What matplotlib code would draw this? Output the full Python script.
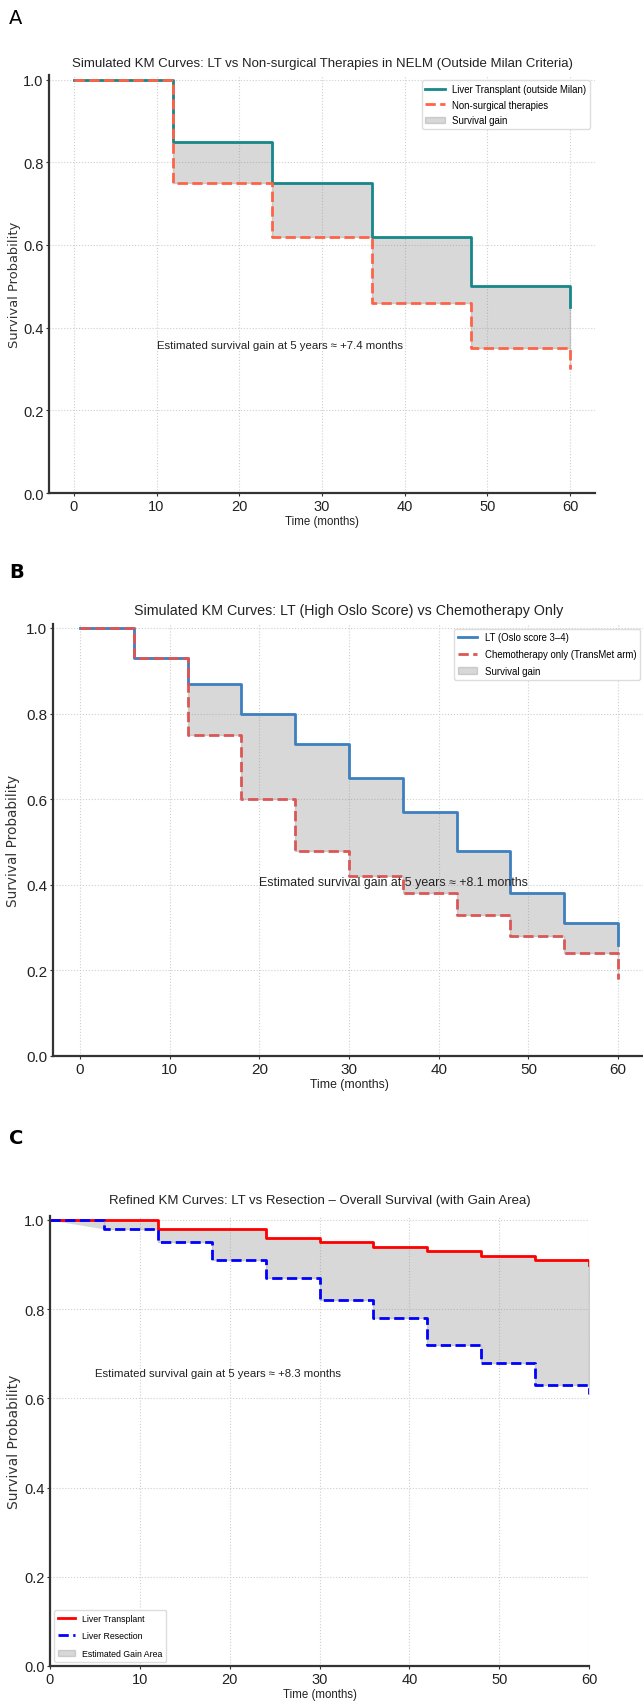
import numpy as np
import matplotlib
matplotlib.use("Agg")
import matplotlib.pyplot as plt

# ---- data ----
# panel A: LT outside Milan vs non-surgical therapies
t_a = [0, 12, 24, 36, 48, 60]
lt_a = [1.0, 0.85, 0.75, 0.62, 0.50, 0.45]
ns_a = [1.0, 0.75, 0.62, 0.46, 0.35, 0.30]

# panel B: LT (Oslo 3-4) vs chemotherapy
t_b = [0, 6, 12, 18, 24, 30, 36, 42, 48, 54, 60]
lt_b = [1.0, 0.93, 0.87, 0.80, 0.73, 0.65, 0.57, 0.48, 0.38, 0.31, 0.26]
ch_b = [1.0, 0.93, 0.75, 0.60, 0.48, 0.42, 0.38, 0.33, 0.28, 0.24, 0.18]

# panel C: LT vs resection
t_c = [0, 6, 12, 18, 24, 30, 36, 42, 48, 54, 60]
lt_c = [1.0, 1.0, 0.98, 0.98, 0.96, 0.95, 0.94, 0.93, 0.92, 0.91, 0.90]
rs_c = [1.0, 0.98, 0.95, 0.91, 0.87, 0.82, 0.78, 0.72, 0.68, 0.63, 0.61]

titles = [
    "Simulated KM Curves: LT vs Non-surgical Therapies in NELM (Outside Milan Criteria)",
    "Simulated KM Curves: LT (High Oslo Score) vs Chemotherapy Only",
    "Refined KM Curves: LT vs Resection \u2013 Overall Survival (with Gain Area)",
]
notes = [
    "Estimated survival gain at 5 years \u2248 +7.4 months",
    "Estimated survival gain at 5 years \u2248 +8.1 months",
    "Estimated survival gain at 5 years \u2248 +8.3 months",
]

sans = ["Liberation Sans", "DejaVu Sans"]
W, H = 643, 1706

fig = plt.figure(figsize=(W / 100, H / 100), dpi=100)


def px_axes(left, right, y0, y1, ytop=1.01):
    # y0 = pixel row of y=0, y1 = pixel row of y=1.0
    top = y0 - (y0 - y1) * ytop
    return fig.add_axes([left / W, (H - y0) / H, (right - left) / W, (y0 - top) / H])


def style(ax, xlim, fs_tick, fs_xlab, fs_ylab, ylab_x):
    ax.set_xlim(*xlim)
    ax.set_ylim(0, 1.01)
    ax.set_yticks([0, 0.2, 0.4, 0.6, 0.8, 1.0])
    ax.grid(True, linestyle=":", color="#cfcfcf", linewidth=0.8)
    ax.set_axisbelow(True)
    for s in ["top", "right"]:
        ax.spines[s].set_visible(False)
    for s in ["left", "bottom"]:
        ax.spines[s].set_color("#333333")
        ax.spines[s].set_linewidth(1.6)
    ax.tick_params(length=2.5, width=0.8, pad=1.5, colors="#333333")
    for lab in ax.get_xticklabels() + ax.get_yticklabels():
        lab.set_family(sans)
        lab.set_fontsize(fs_tick)
        lab.set_color("#222222")
    ax.set_xlabel("Time (months)", family=sans, fontsize=fs_xlab, labelpad=2, color="#222222")
    ax.set_ylabel("Survival Probability", family="DejaVu Sans", fontsize=fs_ylab, color="#333333")
    ax.yaxis.set_label_coords(ylab_x, 0.5)


def legend(ax, loc, size, spacing):
    ax.legend(loc=loc, prop={"family": sans, "size": size}, framealpha=1,
              edgecolor="#dddddd", borderaxespad=0.5, labelspacing=spacing)


# ---------------- A ----------------
ax = px_axes(49, 595, 494, 80.5)
ax.step(t_a, lt_a, where="post", color="#17878a", lw=2, label="Liver Transplant (outside Milan)")
ax.step(t_a, ns_a, where="post", color="#ff6347", lw=2, ls="--", label="Non-surgical therapies")
ax.fill_between(t_a, lt_a, ns_a, step="post", color="gray", alpha=0.3, label="Survival gain")
style(ax, (-3, 63), 10.5, 8.3, 9.4, -0.052)
ax.set_title(titles[0], family=sans, fontsize=9.5, pad=7, color="#222222")
ax.text(10, 0.35, notes[0], family=sans, fontsize=8.2, color="#222222")
legend(ax, "upper right", 6.9, 0.6)

# ---------------- B ----------------
ax = px_axes(53, 645, 1057, 629)
ax.step(t_b, lt_b, where="post", color="#3d7fbf", lw=2, label="LT (Oslo score 3\u20134)")
ax.step(t_b, ch_b, where="post", color="#dc5656", lw=2, ls="--", label="Chemotherapy only (TransMet arm)")
ax.fill_between(t_b, lt_b, ch_b, step="post", color="gray", alpha=0.3, label="Survival gain")
style(ax, (-3, 63), 11, 8.8, 9.8, -0.056)
ax.set_title(titles[1], family=sans, fontsize=10.3, pad=7, color="#222222")
ax.text(20, 0.40, notes[1], family=sans, fontsize=8.9, color="#222222")
legend(ax, "upper right", 6.9, 0.7)

# ---------------- C ----------------
ax = px_axes(50, 589, 1667, 1221)
ax.step(t_c, lt_c, where="post", color="red", lw=2, label="Liver Transplant")
ax.step(t_c, rs_c, where="post", color="blue", lw=2, ls="--", label="Liver Resection")
ax.fill_between(t_c, lt_c, rs_c, step="post", color="gray", alpha=0.3, label="Estimated Gain Area")
ax.fill_between(t_c[:2], lt_c[:2], rs_c[:2], color="gray", alpha=0.3, lw=0)
style(ax, (0, 60), 10.5, 8.3, 10.0, -0.054)
ax.set_title(titles[2], family=sans, fontsize=9.5, pad=9, color="#222222")
ax.text(5, 0.65, notes[2], family=sans, fontsize=8.2, color="#222222")
legend(ax, "lower left", 6.3, 1.0)

# panel letters
fig.text(9 / W, 1 - 18 / H, "A", fontsize=14, va="center", family="DejaVu Sans")
fig.text(9 / W, 1 - 572 / H, "B", fontsize=14, va="center", weight="bold", family="DejaVu Sans")
fig.text(9 / W, 1 - 1138 / H, "C", fontsize=14, va="center", weight="bold", family="DejaVu Sans")

fig.savefig("out.png", dpi=100, facecolor="white")
